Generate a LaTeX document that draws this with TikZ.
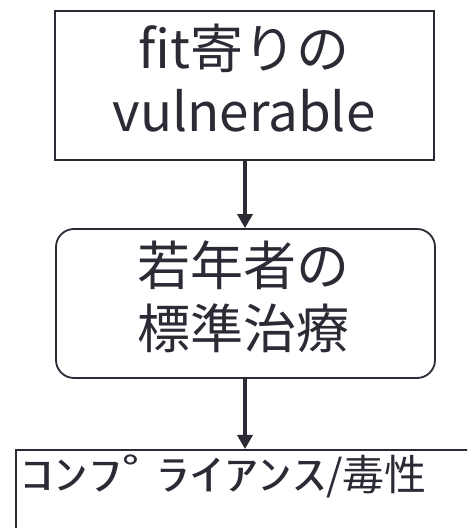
\documentclass[tikz,border=0pt]{standalone}
\usepackage{fontspec}
\setmainfont{Noto Sans CJK JP}
\usetikzlibrary{arrows.meta}
\definecolor{ink}{HTML}{2B2B36}
\tikzset{
  x=1pt,y=1pt,
  boxsq/.style={draw=ink,line width=1.8pt,rectangle,minimum width=379pt,minimum height=149pt,inner sep=0pt},
  boxrd/.style={boxsq,rounded corners=18pt},
  lbl/.style={text=ink,align=center,font=\fontsize{53}{63}\selectfont,inner sep=0pt},
  flow/.style={draw=ink,line width=3.5pt,-{Triangle[width=15pt,length=14pt]}}
}
\begin{document}
\begin{tikzpicture}
\useasboundingbox (0,0) rectangle (467,528);
\clip (0,0) rectangle (467,528);
\node[boxsq] (a) at (244.5,442.5) {};
\node[lbl] (at) at (244,449.5) {fit寄りの\\vulnerable};
\node[boxrd] (b) at (245.5,224.5) {};
\node[lbl] (bt) at (243,231) {若年者の\\標準治療};
\node[draw=ink,line width=1.8pt,rectangle,anchor=north west,minimum width=480pt,minimum height=120pt,inner sep=0pt] (c) at (15,79) {};
\node[text=ink,inner sep=0pt,font=\fontsize{42}{50}\selectfont] (ct) at (223.5,52) {\scalebox{1.62}[1]{ｺﾝﾌﾟﾗｲｱﾝｽ}/毒性};
\draw[flow] (a.south -| 245,0) -- (b.north -| 245,0);
\draw[flow] (b.south -| 245,0) -- (c.north -| 245,0);
\end{tikzpicture}
\end{document}
